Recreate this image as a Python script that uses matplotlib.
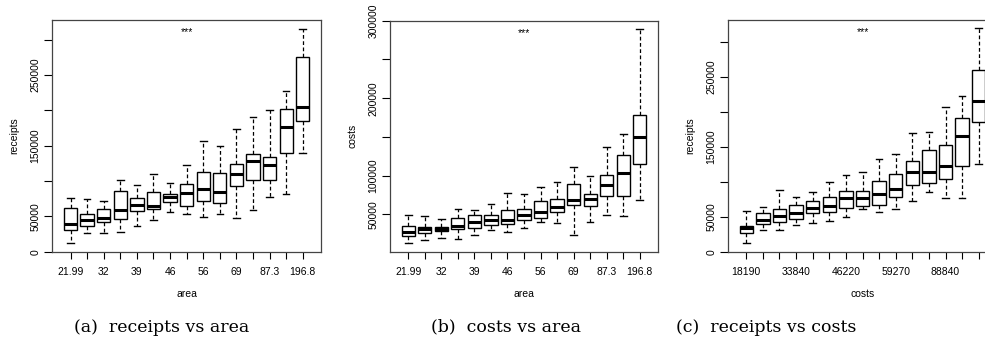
import matplotlib
matplotlib.use("Agg")
import matplotlib.pyplot as plt
import matplotlib.transforms as mtransforms

# ---------------- data ----------------
area_labels = ["21.99", "", "32", "", "39", "", "46", "", "56", "", "69", "", "87.3", "", "196.8"]
cost_labels = ["18190", "", "", "33840", "", "", "46220", "", "", "59270", "", "", "88840", "", ""]

# receipts vs area: whisker low, q1, median, q3, whisker high
ra_wlo = [11800, 26900, 26900, 27400, 36300, 44300, 55700, 52800, 49100, 53800, 47200, 59000, 76900, 81100, 140100]
ra_q1 = [30200, 36800, 41500, 46200, 58000, 59900, 69800, 64200, 72200, 68900, 92900, 101000, 101000, 139200, 185400]
ra_med = [39600, 44800, 48100, 58500, 66000, 64600, 77400, 83500, 88700, 84900, 110400, 128300, 123100, 175900, 205200]
ra_q3 = [61300, 53800, 60400, 86300, 76400, 84900, 81600, 96200, 112300, 111800, 124500, 137700, 133500, 201900, 275000]
ra_whi = [76400, 75000, 72200, 101400, 94800, 109400, 97600, 122200, 157100, 150000, 173100, 191000, 200000, 227800, 314600]

# costs vs area
ca_wlo = [13100, 16600, 19100, 17800, 23000, 29900, 27300, 32000, 40600, 38500, 23000, 40200, 48800, 47500, 69000]
ca_q1 = [21700, 26000, 28600, 31600, 32900, 36300, 37200, 42800, 45400, 52700, 61700, 60400, 73300, 73300, 115500]
ca_med = [27700, 30800, 31600, 35100, 40200, 42800, 42800, 49200, 52700, 59100, 69000, 69500, 87500, 103900, 150300]
ca_q3 = [35500, 34200, 34200, 45800, 49200, 49700, 55300, 57000, 67700, 70300, 89700, 76800, 100400, 126700, 178200]
ca_whi = [48800, 48000, 44500, 56600, 56100, 63000, 78100, 75900, 85800, 92300, 110800, 99600, 136600, 153300, 289200]

# receipts vs costs
rc_wlo = [11900, 30500, 31000, 38600, 41000, 43300, 50000, 60500, 57100, 61000, 72400, 85200, 76200, 77100, 125700]
rc_q1 = [27100, 40000, 41900, 46200, 55700, 56200, 62900, 65200, 67100, 78600, 95700, 98100, 103300, 122900, 185700]
rc_med = [34300, 45200, 50500, 55700, 62900, 65700, 76700, 76200, 82900, 90000, 113800, 113800, 122400, 165200, 215200]
rc_q3 = [37100, 55200, 61400, 67100, 71900, 78600, 87100, 87100, 101400, 110500, 129000, 144800, 152900, 191000, 260000]
rc_whi = [57600, 63300, 87600, 78100, 85200, 100000, 110000, 114300, 131900, 139000, 169000, 170500, 206700, 221900, 319000]

panels = [
    dict(lo=ra_wlo, q1=ra_q1, med=ra_med, q3=ra_q3, hi=ra_whi, xlabels=area_labels,
         xlabel="area", ylabel="receipts", ylim=(0, 328000),
         yticks=[0, 50000, 100000, 150000, 200000, 250000, 300000],
         yticklabels=["0", "50000", "", "150000", "", "250000", ""],
         caption="(a)  receipts vs area"),
    dict(lo=ca_wlo, q1=ca_q1, med=ca_med, q3=ca_q3, hi=ca_whi, xlabels=area_labels,
         xlabel="area", ylabel="costs", ylim=(2000, 300000),
         yticks=[50000, 100000, 150000, 200000, 250000, 300000],
         yticklabels=["50000", "100000", "", "200000", "", "300000"],
         caption="(b)  costs vs area"),
    dict(lo=rc_wlo, q1=rc_q1, med=rc_med, q3=rc_q3, hi=rc_whi, xlabels=cost_labels,
         xlabel="costs", ylabel="receipts", ylim=(0, 331000),
         yticks=[0, 50000, 100000, 150000, 200000, 250000, 300000],
         yticklabels=["0", "50000", "", "150000", "", "250000", ""],
         caption="(c)  receipts vs costs"),
]

W, H = 985, 345
fig = plt.figure(figsize=(W / 100, H / 100), dpi=100)

ax_rects = [
    (52.3, 20.0, 321.0, 251.7),
    (390.0, 20.7, 658.0, 251.7),
    (728.0, 20.0, 997.0, 251.7),
]
caption_x = [162, 506, 766]
ylabel_x = [14, 352, 690]

sans = ["Liberation Sans", "DejaVu Sans"]

for p, (l, t, r, b), cx, ylx in zip(panels, ax_rects, caption_x, ylabel_x):
    ax = fig.add_axes([l / W, 1 - b / H, (r - l) / W, (b - t) / H])
    n = len(p["med"])
    stats = [dict(whislo=p["lo"][i], q1=p["q1"][i], med=p["med"][i], q3=p["q3"][i],
                  whishi=p["hi"][i], fliers=[]) for i in range(n)]
    pos = list(range(1, n + 1))
    ax.bxp(stats, positions=pos, widths=0.8, capwidths=0.4, showfliers=False,
           patch_artist=True,
           boxprops=dict(facecolor="white", edgecolor="black", linewidth=1.0),
           medianprops=dict(color="black", linewidth=2.2, solid_capstyle="butt"),
           whiskerprops=dict(color="black", linewidth=0.9, linestyle=(0, (3, 2))),
           capprops=dict(color="black", linewidth=1.0))
    ax.set_xlim(-0.1, n + 1.1)
    ax.set_ylim(*p["ylim"])
    ax.set_xticks(pos)
    ax.set_xticklabels(p["xlabels"], fontsize=7.5, family=sans)
    ax.set_yticks(p["yticks"])
    ax.set_yticklabels(p["yticklabels"], fontsize=7.5, family=sans, rotation=90, va="center")
    ax.tick_params(axis="x", length=5, width=0.8, pad=6, direction="out")
    ax.tick_params(axis="y", length=5.5, width=0.8, pad=3, direction="out")
    for s in ax.spines.values():
        s.set_linewidth(0.9)
        s.set_color("#444444")
    ax.set_xlabel(p["xlabel"], fontsize=7.5, family=sans, labelpad=9)
    fig.text(ylx / W, 1 - 136 / H, p["ylabel"], rotation=90, fontsize=7.5,
             family=sans, ha="center", va="center")
    trans = mtransforms.blended_transform_factory(ax.transData, ax.transAxes)
    ax.text(8, 0.948, "***", transform=trans, fontsize=7.5, ha="center", va="center",
            family=sans)
    fig.text(cx / W, 1 - 327 / H, p["caption"], fontsize=12.5,
             family=["DejaVu Serif", "Liberation Serif"], ha="center", va="center")

fig.savefig("out.png", dpi=100)
